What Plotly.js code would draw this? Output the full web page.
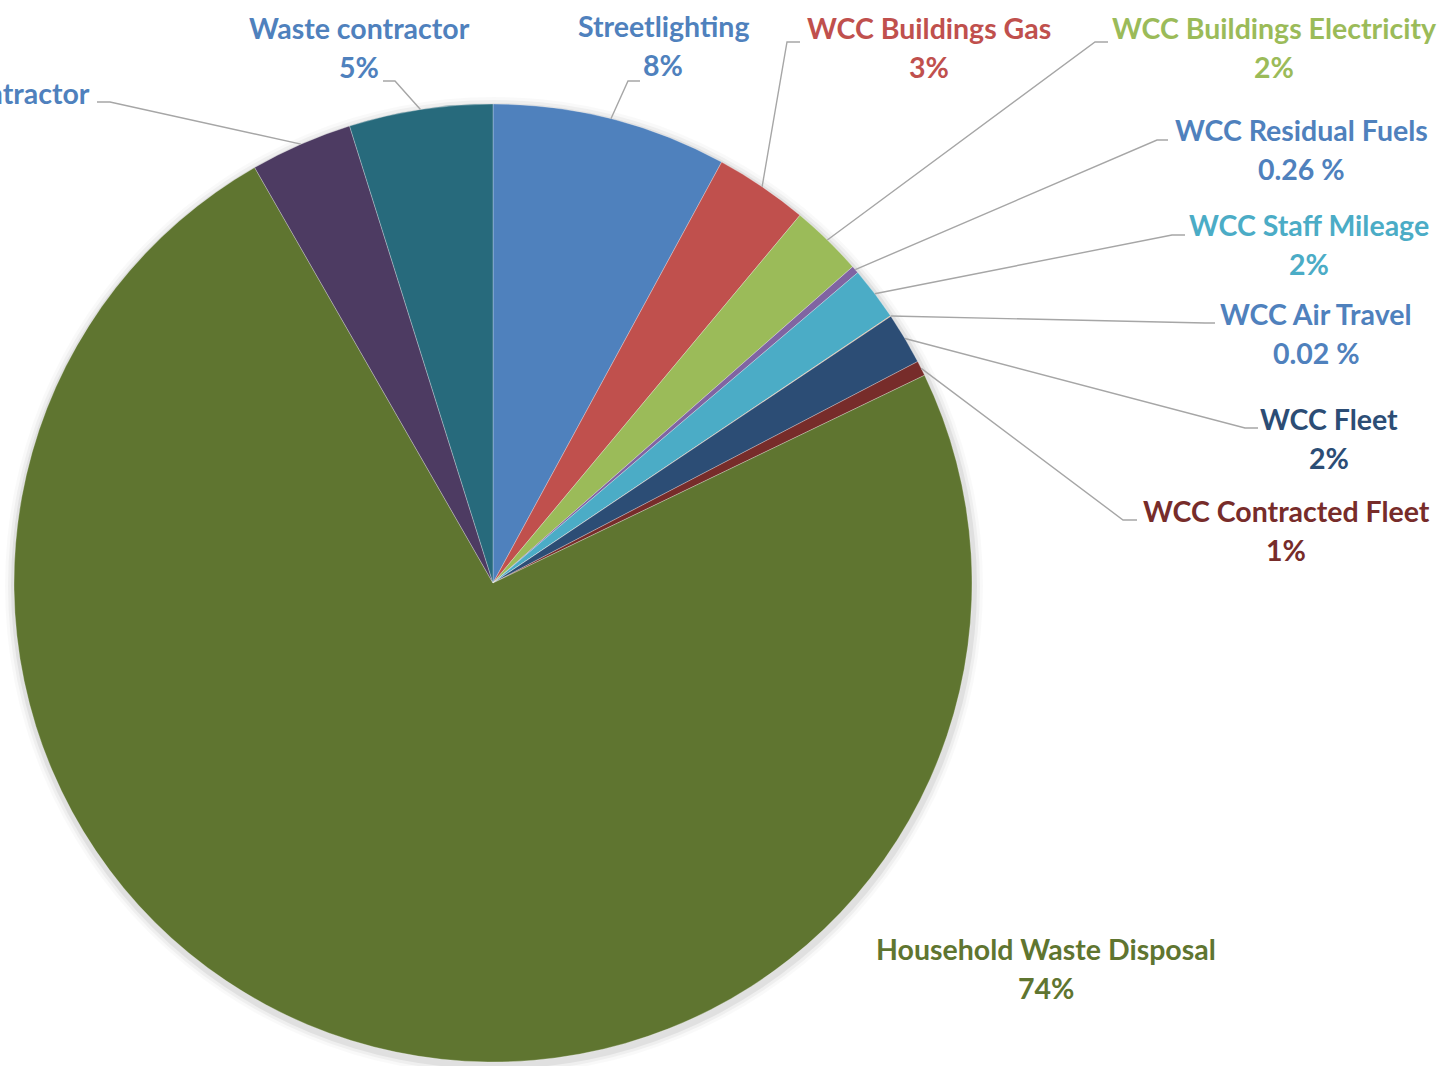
<!DOCTYPE html>
<html>
<head>
<meta charset="utf-8">
<script src="https://cdn.plot.ly/plotly-3.0.1.min.js"></script>
<style>
  html, body { margin: 0; padding: 0; background: #ffffff; }
  #chart { width: 1451px; height: 1066px; }
</style>
</head>
<body>
<div id="chart"></div>
<script>
// ---- data ----
const categories = [
  "Streetlighting",
  "WCC Buildings Gas",
  "WCC Buildings Electricity",
  "WCC Residual Fuels",
  "WCC Staff Mileage",
  "WCC Air Travel",
  "WCC Fleet",
  "WCC Contracted Fleet",
  "Household Waste Disposal",
  "Recycling contractor",
  "Waste contractor"
];
const shares = [7.92, 3.15, 2.45, 0.26, 1.80, 0.02, 1.75, 0.51, 73.85, 3.45, 4.84];
const shareLabels = ["8%", "3%", "2%", "0.26 %", "2%", "0.02 %", "2%", "1%", "74%", "4%", "5%"];

// ---- styles ----
const sliceColors = ["#4F81BD", "#C0504D", "#9BBB59", "#8064A2", "#4BACC6", "#F79646",
                     "#2C4D75", "#772C2A", "#5F7530", "#4D3B62", "#276A7C"];
const labelColors = ["#4F81BD", "#C0504D", "#9BBB59", "#4F81BD", "#4BACC6", "#4F81BD",
                     "#2C4D75", "#772C2A", "#5F7530", "#4F81BD", "#4F81BD"];

// ---- layout (pixels) ----
const W = 1451, H = 1066;
const CX = 493, CY = 583, R = 479;
const LINE_GAP = 39;
// label anchor: [x, y of first line, xanchor], leader elbow and end (null = no leader)
const labelPos = [
  {x: 663,  y: 26,  xa: "center", elbow: [628, 81],   end: [640, 81]},
  {x: 929,  y: 28,  xa: "center", elbow: [787, 42],   end: [800, 42]},
  {x: 1274, y: 28,  xa: "center", elbow: [1095, 42],  end: [1108, 42]},
  {x: 1301, y: 130, xa: "center", elbow: [1157, 140], end: [1168, 140]},
  {x: 1309, y: 225, xa: "center", elbow: [1172, 235], end: [1185, 235]},
  {x: 1316, y: 314, xa: "center", elbow: [1205, 323], end: [1215, 323]},
  {x: 1329, y: 419, xa: "center", elbow: [1245, 428], end: [1258, 428]},
  {x: 1286, y: 511, xa: "center", elbow: [1123, 520], end: [1137, 520]},
  {x: 1046, y: 949, xa: "center", elbow: null,        end: null},
  {x: 92,   y: 93,  xa: "right",  elbow: [110, 102],  end: [97, 102]},
  {x: 359,  y: 28,  xa: "center", elbow: [395, 81],   end: [383, 81]}
];

const px = x => x / W;
const py = y => 1 - y / H;

const trace = {
  type: "pie",
  labels: categories,
  values: shares,
  sort: false,
  direction: "clockwise",
  rotation: 0,
  textinfo: "none",
  hoverinfo: "label+percent",
  marker: { colors: sliceColors, line: { color: "rgba(255,255,255,0.35)", width: 0.8 } },
  domain: { x: [px(CX - R), px(CX + R)], y: [py(CY + R), py(CY - R)] },
  showlegend: false
};

// leader lines start at each slice's mid-angle on the rim
const total = shares.reduce((a, b) => a + b, 0);
let cum = 0;
const shapes = [];
// soft shadow behind the pie
[[10, 0.025], [7, 0.04], [4, 0.06]].forEach(([d, a]) => {
  shapes.push({
    type: "circle", xref: "paper", yref: "paper", layer: "below",
    x0: px(CX + 1 - R - d), x1: px(CX + 1 + R + d),
    y0: py(CY + 3 + R + d), y1: py(CY + 3 - R - d),
    fillcolor: "rgba(0,0,0," + a + ")", line: { width: 0 }
  });
});
const annotations = [];
const font = (c) => ({ family: "Lato, 'Open Sans', sans-serif", size: 28.5, color: c, weight: 700 });

categories.forEach((name, i) => {
  const mid = (cum + shares[i] / 2) / total;
  cum += shares[i];
  const th = mid * 2 * Math.PI;
  const sx = CX + R * Math.sin(th), sy = CY - R * Math.cos(th);
  const L = labelPos[i];
  if (L.elbow) {
    shapes.push({
      type: "path", xref: "paper", yref: "paper", layer: "above",
      path: "M " + px(sx) + "," + py(sy) + " L " + px(L.elbow[0]) + "," + py(L.elbow[1]) +
            " L " + px(L.end[0]) + "," + py(L.end[1]),
      line: { color: "#A6A6A6", width: 1.4 }
    });
  }
  annotations.push({
    xref: "paper", yref: "paper", x: px(L.x), y: py(L.y),
    xanchor: L.xa, yanchor: "middle", showarrow: false,
    text: name, font: font(labelColors[i])
  });
  const pctX = L.xa === "right" ? L.x - 145 : L.x;
  annotations.push({
    xref: "paper", yref: "paper", x: px(pctX), y: py(L.y + LINE_GAP),
    xanchor: "center", yanchor: "middle", showarrow: false,
    text: shareLabels[i], font: font(labelColors[i])
  });
});

const layout = {
  width: W, height: H,
  margin: { l: 0, r: 0, t: 0, b: 0 },
  paper_bgcolor: "#ffffff",
  showlegend: false,
  shapes: shapes,
  annotations: annotations
};

Plotly.newPlot("chart", [trace], layout, { displayModeBar: false, staticPlot: true });
</script>
</body>
</html>
